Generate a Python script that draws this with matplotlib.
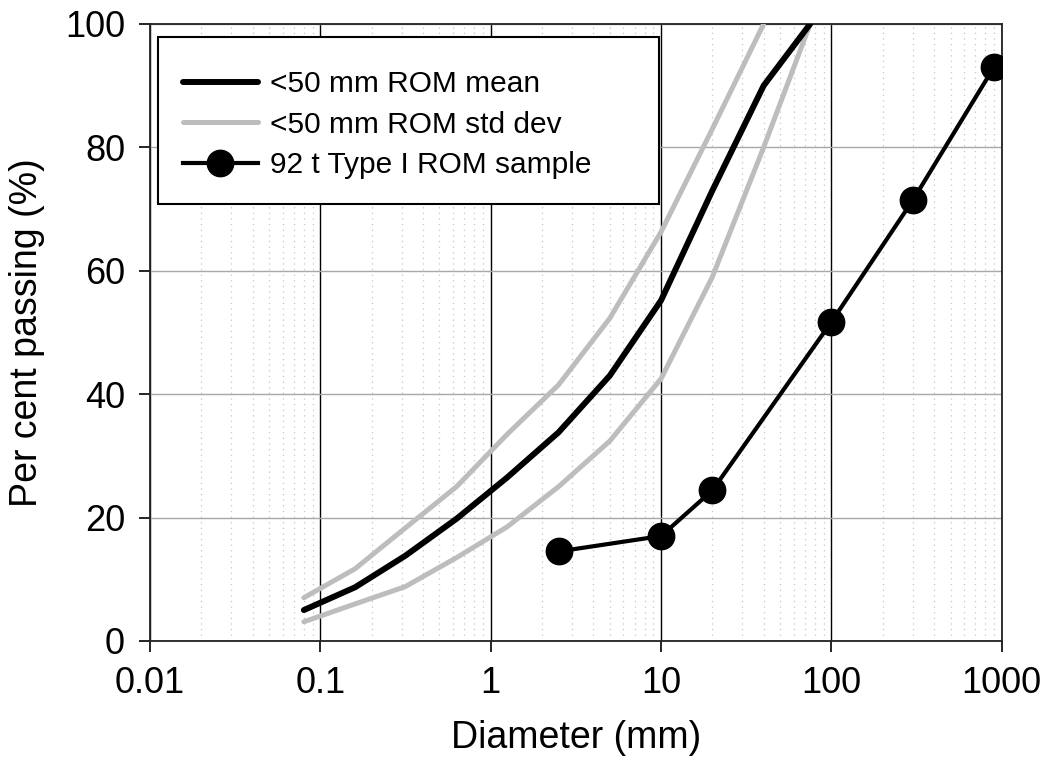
import numpy as np
import matplotlib
matplotlib.use("Agg")
import matplotlib.pyplot as plt
from matplotlib.patches import Rectangle
from matplotlib.ticker import LogLocator, FixedLocator, FixedFormatter, NullFormatter

plt.rcParams['font.family'] = ['Liberation Sans', 'DejaVu Sans']

# sieve sizes (mm) for the <50 mm ROM curves
sieve = [0.08, 0.16, 0.315, 0.63, 1.25, 2.5, 5, 10, 20, 40, 75]
mean_pass = [5.0, 8.7, 13.8, 19.8, 26.5, 33.8, 43.0, 55.2, 73.0, 90.0, 100.0]
upper_pass = [7.0, 11.7, 18.3, 25.0, 33.5, 41.5, 52.3, 66.3, 83.0, 100.0]
lower_pass = [3.1, 6.0, 8.8, 13.5, 18.5, 25.0, 32.4, 42.5, 59.0, 80.0, 100.0]

# 92 t Type I ROM sample
sample_d = [2.5, 10, 20, 100, 300, 900]
sample_pass = [14.5, 17.0, 24.4, 51.7, 71.4, 93.0]

xticks = [0.01, 0.1, 1, 10, 100, 1000]
xticklabels = ['0.01', '0.1', '1', '10', '100', '1000']
yticks = [0, 20, 40, 60, 80, 100]

fig = plt.figure(figsize=(10.49, 7.63), dpi=100)
ax = fig.add_axes([0.143, 0.160, 0.812, 0.8086])

gray = '#bdbdbd'
ax.plot(sieve, mean_pass, color='black', lw=4.3, solid_capstyle='round',
        solid_joinstyle='round', label='<50 mm ROM mean', zorder=4)
ax.plot(sieve[:len(upper_pass)], upper_pass, color=gray, lw=3.6,
        solid_capstyle='round', solid_joinstyle='round',
        label='<50 mm ROM std dev', zorder=3)
ax.plot(sieve, lower_pass, color=gray, lw=3.6, solid_capstyle='round',
        solid_joinstyle='round', zorder=3)
ax.plot(sample_d, sample_pass, color='black', lw=3, marker='o', ms=19,
        label='92 t Type I ROM sample', zorder=5)

ax.set_xscale('log')
ax.set_xlim(0.01, 1000)
ax.set_ylim(0, 100)

ax.xaxis.set_major_locator(FixedLocator(xticks))
ax.xaxis.set_major_formatter(FixedFormatter(xticklabels))
ax.xaxis.set_minor_locator(LogLocator(base=10, subs=np.arange(2, 10), numticks=20))
ax.xaxis.set_minor_formatter(NullFormatter())
ax.set_yticks(yticks)

ax.grid(axis='x', which='major', color='black', lw=1.0)
ax.grid(axis='x', which='minor', color='#c4c4c4', lw=0.9, linestyle=(0, (1, 3.5)))
ax.grid(axis='y', which='major', color='#a8a8a8', lw=1.0)
ax.set_axisbelow(True)

ax.tick_params(axis='both', which='major', labelsize=26, length=8, width=1.2,
               direction='out', pad=10)
ax.tick_params(axis='x', which='minor', length=0)
for s in ax.spines.values():
    s.set_linewidth(1.3)
    s.set_color('#222222')

ax.set_xlabel('Diameter (mm)', fontsize=27, labelpad=14)
ax.set_ylabel('Per cent passing (%)', fontsize=27, labelpad=14)

# legend box drawn separately (wide right margin as in the original)
box = Rectangle((0.0094, 0.708), 0.588, 0.271, transform=ax.transAxes,
                facecolor='white', edgecolor='black', lw=1.5, zorder=9)
ax.add_patch(box)
leg = ax.legend(loc='upper left', bbox_to_anchor=(0.0387, 0.925), fontsize=21.5,
                frameon=False, handlelength=2.5, handletextpad=0.4,
                labelspacing=0.42, borderpad=0, borderaxespad=0)
leg.set_zorder(10)

fig.savefig('out.png', dpi=100)
